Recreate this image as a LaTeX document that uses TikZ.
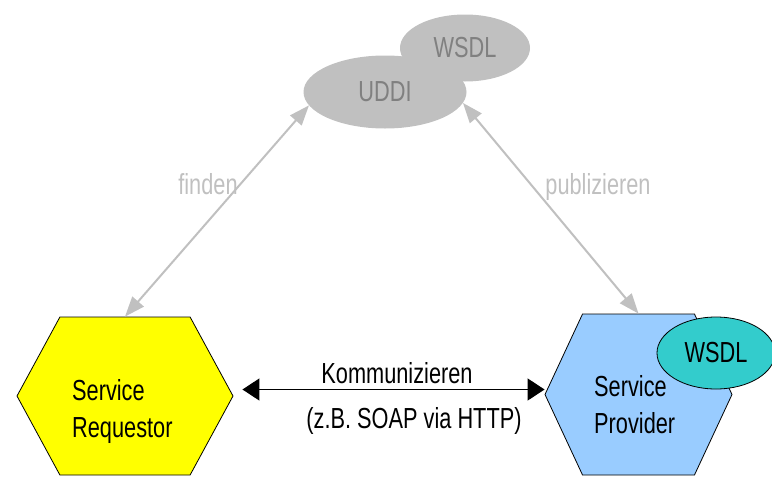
\documentclass[tikz,border=0pt]{standalone}
\usepackage{fontspec}
\setmainfont{Liberation Sans}[FakeStretch=0.75]
\usetikzlibrary{shapes.geometric,shapes.symbols,arrows.meta}
\definecolor{reqyellow}{RGB}{255,255,0}
\definecolor{provblue}{RGB}{153,204,255}
\definecolor{wsdlteal}{RGB}{51,204,204}
\definecolor{uddigray}{RGB}{192,192,192}
\definecolor{udditext}{RGB}{128,128,128}

\begin{document}
\begin{tikzpicture}[x=1pt, y=-1pt,
  every node/.style={inner sep=0pt, font=\fontsize{29}{37}\selectfont},
  hexa/.style={signal, signal to=west and east, draw=black, line width=0.8pt},
  registry/.style={ellipse, fill=uddigray, text=udditext},
  graylabel/.style={text=uddigray, anchor=base},
  lookup/.style={<->, >={Triangle[length=20pt,width=15pt]}, line width=2pt, uddigray},
  comm/.style={<->, >={Triangle[length=17pt,width=22pt]}, line width=1.5pt, black}
]
\useasboundingbox (0,0) rectangle (772,477);

\node[registry, minimum width=130pt, minimum height=67pt] (wsdl) at (465,48) {WSDL};
\node[registry, minimum width=163pt, minimum height=73pt] (uddi) at (385,92) {UDDI};

\node[hexa, fill=reqyellow, minimum width=216pt, minimum height=158pt, signal pointer angle=123] (req) at (125,396) {};
\node[anchor=north west, align=left] (reqtext) at (72,379) {Service\\Requestor};

\node[hexa, fill=provblue, minimum width=187pt, minimum height=161pt, signal pointer angle=130] (prov) at (638.5,394.5) {};
\node[anchor=north west, align=left] (provtext) at (594,375) {Service\\Provider};
\node[ellipse, draw=black, line width=0.8pt, fill=wsdlteal, minimum width=118pt, minimum height=72pt] (provwsdl) at (716,353) {WSDL};

\node[graylabel] (finden) at (208,194) {finden};
\node[graylabel] (publ) at (598,194) {publizieren};
\node[anchor=base] (komm) at (397,383) {Kommunizieren};
\node[anchor=base] (soap) at (414,428) {(z.B. SOAP via HTTP)};

\draw[lookup] (req.north) -- (uddi.190);
\draw[lookup] (prov.north) -- (uddi.352);
\draw[comm, shorten <=9pt] ([yshift=5pt]prov.west -| req.east) -- ([yshift=5pt]prov.west);

\end{tikzpicture}
\end{document}
